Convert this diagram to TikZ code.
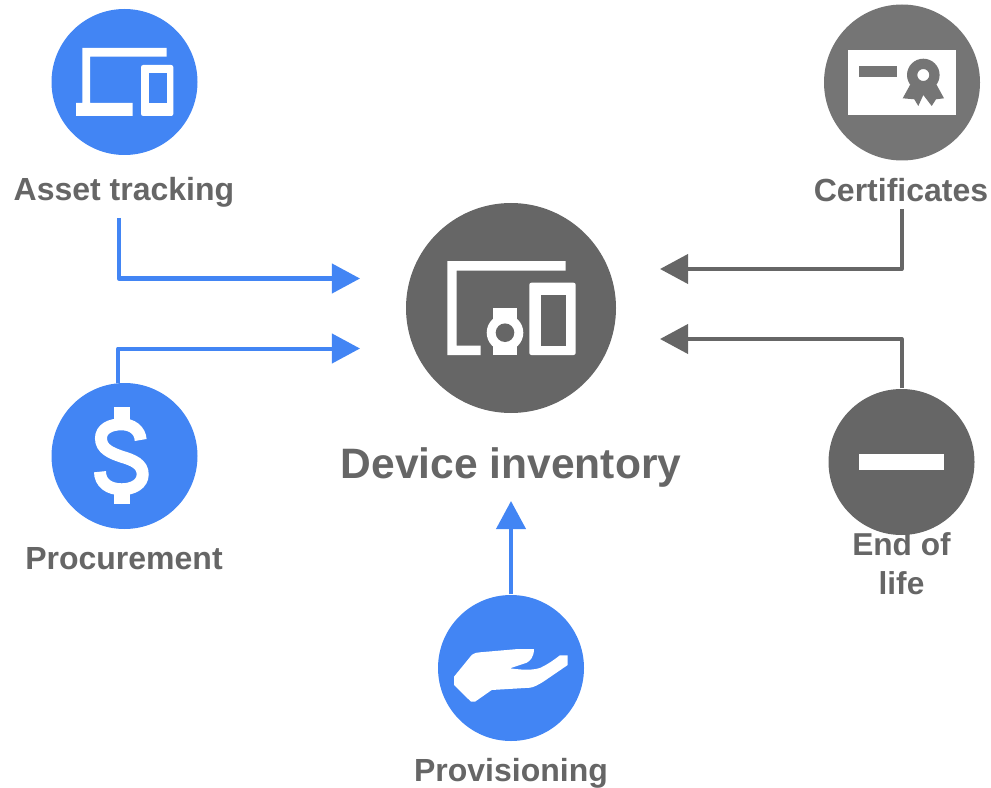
\documentclass[tikz,border=0pt]{standalone}
\usepackage{fontspec}
\setmainfont{Liberation Sans}
\usetikzlibrary{arrows.meta}
\definecolor{gblue}{HTML}{4285F4}
\definecolor{ggrey}{HTML}{666666}
\definecolor{certgrey}{HTML}{757575}
\tikzset{
  blob/.style={circle, draw=none, minimum size=#1*0.01cm, inner sep=0pt},
  lab/.style={text=ggrey, font=\fontsize{9.1}{11}\selectfont\bfseries, align=center, inner sep=0pt},
  link/.style={line width=0.04cm, line join=round, -{Triangle[length=0.28cm,width=0.29cm]}},
}
\begin{document}
\begin{tikzpicture}[x=0.01cm, y=-0.01cm]
	\useasboundingbox (0,0) rectangle (991,788);

	% Circles
	\node[blob=146, fill=gblue] (asset) at (124.5,82) {};
	\node[blob=146, fill=gblue] (procurement) at (124.5,456) {};
	\node[blob=146, fill=gblue] (provisioning) at (511,668) {};
	\node[blob=156, fill=certgrey] (certificates) at (902,82.5) {};
	\node[blob=146, fill=ggrey] (endoflife) at (901.5,462) {};
	\node[blob=210, fill=ggrey] (device) at (511,308) {};

	% Labels
	\node[lab] (assetlabel) at (124,192.7) {Asset tracking};
	\node[lab] (procurementlabel) at (124,558.5) {Procurement};
	\node[lab] (provisioninglabel) at (511,773.2) {Provisioning};
	\node[lab] (certificateslabel) at (901,190.5) {Certificates};
	\node[lab, font=\fontsize{9}{11.1}\selectfont\bfseries] (endoflifelabel) at (901.5,564) {End of\\life};
	\node[lab, font=\fontsize{12.1}{15}\selectfont\bfseries] (devicelabel) at (511,467) {Device inventory};

	% Arrow ends
	\coordinate (assetout) at (118.7,218);
	\coordinate (assetin) at (360,278.5);
	\coordinate (procin) at (360,348.5);
	\coordinate (certout) at (901.5,209);
	\coordinate (certin) at (660,269);
	\coordinate (endin) at (660,339);
	\coordinate (provin) at (511,501);

	% Connectors
	\draw[link, gblue] (assetout) |- (assetin);
	\draw[link, gblue] (procurement.95) |- (procin);
	\draw[link, gblue] (provisioning.north) -- (provin);
	\draw[link, ggrey] (certout) |- (certin);
	\draw[link, ggrey] (endoflife.north) |- (endin);

	% Laptop and phone
	\fill[white] (82.3,48) -- (166.7,48) -- (166.7,56.7) -- (90,56.7) -- (90,103) -- (132.7,103) -- (132.7,116) -- (76,116) -- (76,103) -- (82.3,103) -- cycle;
	\fill[white, rounded corners=0.6pt] (141,65) rectangle (173.3,116);
	\fill[gblue] (149.3,73.3) rectangle (166.7,103.3);

	% Certificate
	\fill[white] (848.3,50) rectangle (956,114.7);
	\fill[certgrey] (859,66) rectangle (896.7,77);
	\fill[certgrey, even odd rule] (923.3,75) circle (16.3) (923.3,75) circle (6);
	\fill[certgrey] (910,85) -- (902.7,98.3) -- (914.3,99.3) -- (918.3,106) -- (923.3,95) -- (931.7,106) -- (936,99.3) -- (944,98.3) -- (936.7,85) -- cycle;

	% Dollar
	\draw[white, line width=0.12cm] (140.7,440) .. controls (140,430) and (132,424.3) .. (121.7,424.3) .. controls (110,424.3) and (101,429) .. (101,438.3) .. controls (101,449) and (111,453) .. (121.7,456.7) .. controls (133,460) and (142.7,464) .. (142.7,474.3) .. controls (142.7,484) and (133,489.3) .. (121.7,489.3) .. controls (109,489.3) and (100,483) .. (100,471.7);
	\fill[white] (113.7,407.3) rectangle (130,420);
	\fill[white] (113.7,493) rectangle (130,504.3);

	% Hand
	\fill[white] (454,676.7) -- (471.7,655) .. controls (475,652.5) and (478,652.5) .. (480,652.3) -- (518.3,649) -- (534,649) .. controls (534,657) and (530,661) .. (526.7,662.7) -- (510,668.3) .. controls (525,670.5) and (535,670) .. (541,667.5) .. controls (550,663) and (555,659) .. (560,655.3) -- (567.7,655.3) -- (567.7,665) -- (543.3,681.7) .. controls (538,685) and (533,687.5) .. (530,687.7) -- (491.7,690) -- (475,701.7) -- (471,701.7) -- (454,685) -- cycle;

	% Minus
	\fill[white] (859,454) rectangle (944,470);

	% Devices
	\fill[white] (447.3,261) -- (565.7,261) -- (565.7,270.7) -- (456.7,270.7) -- (456.7,345.7) -- (480.7,345.7) -- (480.7,355) -- (447.3,355) -- cycle;
	\fill[white, rounded corners=0.6pt] (529.3,282.7) rectangle (575.7,355);
	\fill[ggrey] (541.3,295.3) rectangle (566,345.7);
	\fill[white] (492.7,308) rectangle (517.3,355);
	\fill[white] (505,332.7) circle (18.3);
	\fill[ggrey] (505,332.7) circle (9.3);
\end{tikzpicture}
\end{document}
